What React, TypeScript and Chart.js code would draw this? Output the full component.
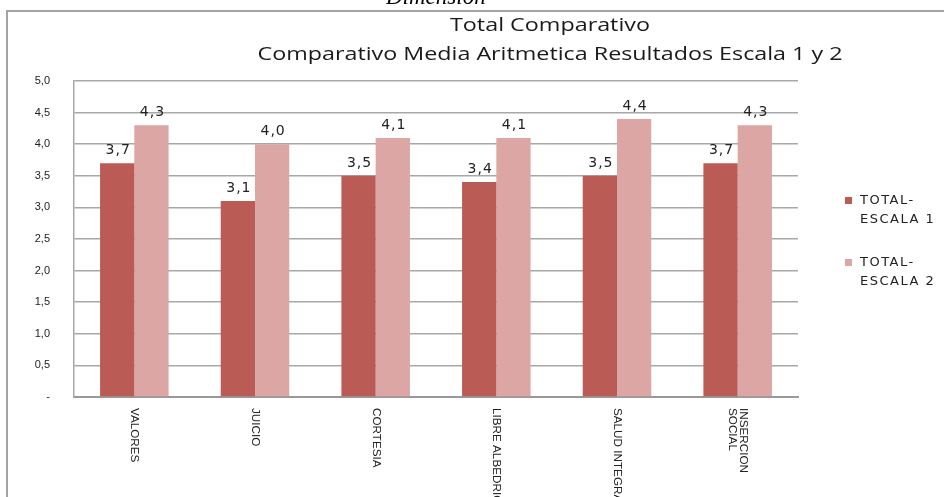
import React, { useEffect, useRef } from "react";
import { Chart, registerables } from "chart.js";

Chart.register(...registerables);

const categories: (string | string[])[] = [
  "VALORES",
  "JUICIO",
  "CORTESIA",
  "LIBRE ALBEDRIO",
  "SALUD INTEGRAL",
  ["INSERCION", "SOCIAL"],
];
const escala1 = [3.7, 3.1, 3.5, 3.4, 3.5, 3.7];
const escala2 = [4.3, 4.0, 4.1, 4.1, 4.4, 4.3];
const seriesNames = [
  ["TOTAL-", "ESCALA 1"],
  ["TOTAL-", "ESCALA 2"],
];
const seriesColors = ["#BA5B56", "#DCA6A4"];
const titleLines = [
  "Total Comparativo",
  "Comparativo Media Aritmetica Resultados Escala 1 y 2",
];
const topCaption = "Dimension";
const yMin = 0;
const yMax = 5;
const yStep = 0.5;

const fmt = (v: number) => (v === 0 ? "-" : v.toFixed(1).replace(".", ","));

const decorPlugin = {
  id: "decor",
  beforeDraw(chart: any) {
    const ctx = chart.ctx as CanvasRenderingContext2D;
    ctx.save();
    ctx.fillStyle = "#ffffff";
    ctx.fillRect(0, 0, chart.width, chart.height);
    // outer frame
    ctx.strokeStyle = "#a3a3a3";
    ctx.lineWidth = 2;
    ctx.beginPath();
    ctx.moveTo(7, 520);
    ctx.lineTo(7, 11);
    ctx.lineTo(960, 11);
    ctx.stroke();
    // cut caption
    ctx.fillStyle = "#000";
    ctx.font = 'italic 23px "Liberation Serif"';
    ctx.textAlign = "left";
    ctx.textBaseline = "alphabetic";
    ctx.fillText(topCaption, 386, 4);
    // titles
    ctx.fillStyle = "#1a1a1a";
    ctx.font = '19px "Open Sans"';
    ctx.textAlign = "center";
    const fits = [200, 585];
    const bases = [31, 60];
    const centers = [550, 550];
    titleLines.forEach((t, i) => {
      const w = ctx.measureText(t).width;
      ctx.save();
      ctx.translate(centers[i], bases[i]);
      ctx.scale(fits[i] / w, 1);
      ctx.fillText(t, 0, 0);
      ctx.restore();
    });
    ctx.restore();
  },
  afterDatasetsDraw(chart: any) {
    const ctx = chart.ctx as CanvasRenderingContext2D;
    ctx.save();
    // value labels
    ctx.fillStyle = "#222";
    ctx.font = '14px "DejaVu Sans"';
    (ctx as any).letterSpacing = "1px";
    ctx.textAlign = "center";
    ctx.textBaseline = "alphabetic";
    chart.data.datasets.forEach((ds: any, di: number) => {
      const meta = chart.getDatasetMeta(di);
      meta.data.forEach((el: any, i: number) => {
        ctx.fillText(fmt(ds.data[i]), el.x + 1, el.y - 9);
      });
    });
    // x labels rotated
    (ctx as any).letterSpacing = "0px";
    ctx.font = '13px "Liberation Sans"';
    ctx.textAlign = "left";
    ctx.textBaseline = "middle";
    const xs = chart.scales.x;
    categories.forEach((c, i) => {
      const lines = Array.isArray(c) ? c : [c];
      const x = xs.getPixelForValue(i);
      ctx.save();
      ctx.translate(x, 408);
      ctx.rotate(Math.PI / 2);
      ctx.scale(0.9, 0.85);
      lines.forEach((ln, li) => {
        ctx.fillText(ln, 0, (li - (lines.length - 1) / 2) * 13);
      });
      ctx.restore();
    });
    // legend
    ctx.font = '13px "DejaVu Sans"';
    (ctx as any).letterSpacing = "1.5px";
    ctx.textBaseline = "alphabetic";
    ctx.textAlign = "left";
    chart.data.datasets.forEach((ds: any, di: number) => {
      const y0 = 204 + di * 62;
      ctx.fillStyle = ds.backgroundColor;
      ctx.fillRect(845, y0 - 7, 7, 7);
      ctx.fillStyle = "#222";
      seriesNames[di].forEach((ln, li) => {
        ctx.fillText(ln, 860, y0 + li * 19);
      });
    });
    ctx.restore();
  },
};

export default function App() {
  const ref = useRef<HTMLCanvasElement>(null);
  useEffect(() => {
    if (!ref.current) return;
    const chart = new Chart(ref.current, {
      type: "bar",
      data: {
        labels: categories as any,
        datasets: [
          {
            label: seriesNames[0].join(" "),
            data: escala1,
            backgroundColor: seriesColors[0],
            borderWidth: 0,
            categoryPercentage: 0.568,
            barPercentage: 1,
          },
          {
            label: seriesNames[1].join(" "),
            data: escala2,
            backgroundColor: seriesColors[1],
            borderWidth: 0,
            categoryPercentage: 0.568,
            barPercentage: 1,
          },
        ],
      },
      options: {
        animation: false,
        responsive: true,
        maintainAspectRatio: false,
        devicePixelRatio: 1,
        layout: { padding: { left: 0, top: 81, right: 146, bottom: 100 } },
        plugins: {
          legend: { display: false },
          title: { display: false },
          tooltip: { enabled: false },
        },
        scales: {
          x: {
            grid: { display: false },
            border: { display: true, color: "#999999", width: 2 },
            ticks: { display: false },
            afterFit: (s: any) => {
              s.height = 0;
            },
          },
          y: {
            min: yMin,
            max: yMax,
            grid: { color: "#a8a8a8", lineWidth: 1.5, drawTicks: false },
            border: { display: true, color: "#a8a8a8", width: 1.5 },
            ticks: {
              stepSize: yStep,
              padding: 24,
              color: "#222",
              font: { family: '"Liberation Sans"', size: 11 },
              callback: (v: any) => fmt(Number(v)),
            },
            afterFit: (s: any) => {
              s.width = 74;
            },
          },
        },
      },
      plugins: [decorPlugin],
    });
    return () => chart.destroy();
  }, []);
  return (
    <div style={{ position: "fixed", left: 0, top: 0, width: 944, height: 497, background: "#fff" }}>
      <canvas ref={ref} />
    </div>
  );
}
